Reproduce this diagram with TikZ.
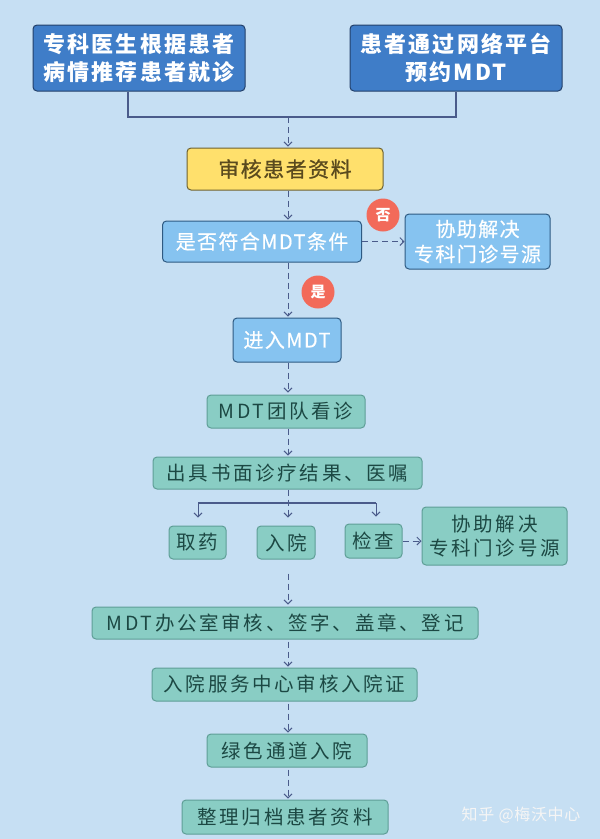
\documentclass[tikz,border=0pt]{standalone}
\usepackage{fontspec}
\setmainfont{Noto Sans CJK SC}
\usetikzlibrary{arrows.meta}
\definecolor{bgc}{HTML}{C6DFF3}
\definecolor{dbfill}{HTML}{3F7DC8}
\definecolor{dbdraw}{HTML}{22406A}
\definecolor{yfill}{HTML}{FFE06C}
\definecolor{ydraw}{HTML}{6E6230}
\definecolor{ytext}{HTML}{5A4A1E}
\definecolor{lbfill}{HTML}{86C3F0}
\definecolor{lbdraw}{HTML}{2E5A82}
\definecolor{tfill}{HTML}{89CDC4}
\definecolor{tdraw}{HTML}{5E9E96}
\definecolor{ttext}{HTML}{1C4843}
\definecolor{rfill}{HTML}{F26A5A}
\definecolor{lc}{HTML}{4A5B8A}
\begin{document}
\begin{tikzpicture}[x=1pt,y=-1pt,
  box/.style={rounded corners=4pt, line width=1pt, inner sep=0pt, align=center},
  dbox/.style={box, draw=dbdraw, fill=dbfill, text=white,
     font=\fontsize{22}{28}\selectfont\bfseries\addfontfeatures{LetterSpace=10}},
  ybox/.style={box, draw=ydraw, fill=yfill, text=ytext,
     font=\fontsize{21}{26}\selectfont\addfontfeatures{LetterSpace=7,FakeBold=0.8}},
  lbox/.style={box, draw=lbdraw, fill=lbfill, text=white,
     font=\fontsize{20}{25}\selectfont\addfontfeatures{LetterSpace=7,FakeBold=0.5}},
  tbox/.style={box, draw=tdraw, fill=tfill, text=ttext,
     font=\fontsize{19.5}{24}\selectfont\addfontfeatures{LetterSpace=14}},
  rc/.style={circle, fill=rfill, minimum size=33pt, inner sep=0pt, text=white,
     font=\fontsize{15}{17}\selectfont\bfseries},
  conn/.style={draw=lc, line width=0.9pt},
  arr/.style={conn, -{Straight Barb[length=4pt,width=8pt]}},
  dsh/.style={dash pattern=on 6pt off 4pt}
]
\fill[bgc] (0,0) rectangle (600,839);
\useasboundingbox (0,0) rectangle (600,839);

% top boxes
\node[dbox, minimum width=212pt, minimum height=66pt] (tl) at (139,58) {专科医生根据患者\\病情推荐患者就诊};
\node[dbox, minimum width=212pt, minimum height=66pt] (tr) at (456,58) {患者通过网络平台\\预约MDT};

\node[ybox, minimum width=196pt, minimum height=42pt] (sh) at (285,169) {审核患者资料};
\node[lbox, minimum width=199pt, minimum height=41pt] (ck) at (262,241.5) {是否符合MDT条件};
\node[lbox, minimum width=145pt, minimum height=55pt] (xz1) at (477.5,241.5) {协助解决\\专科门诊号源};
\node[lbox, minimum width=108pt, minimum height=44pt] (jr) at (287,340) {进入MDT};

\node[rc] (no) at (383,215) {否};
\node[rc] (yes) at (318,292) {是};

\node[tbox, minimum width=158pt, minimum height=33pt] (td) at (286,411.5) {MDT团队看诊};
\node[tbox, minimum width=269pt, minimum height=32pt] (cj) at (287.5,473) {出具书面诊疗结果、医嘱};
\node[tbox, minimum width=57pt, minimum height=33pt] (qy) at (197.5,542.5) {取药};
\node[tbox, minimum width=58pt, minimum height=33pt] (ry) at (286,542.5) {入院};
\node[tbox, minimum width=57pt, minimum height=34pt] (jc) at (373.5,541) {检查};
\node[tbox, minimum width=145pt, minimum height=58pt] (xz2) at (494.5,536) {协助解决\\专科门诊号源};
\node[tbox, minimum width=386pt, minimum height=32pt] (of) at (285,623) {MDT办公室审核、签字、盖章、登记};
\node[tbox, minimum width=265pt, minimum height=33pt] (fw) at (284.5,684.5) {入院服务中心审核入院证};
\node[tbox, minimum width=160pt, minimum height=33pt] (ls) at (287,750.5) {绿色通道入院};
\node[tbox, minimum width=206pt, minimum height=34pt] (zl) at (285,817) {整理归档患者资料};

\node[text=white!92!gray, font=\fontsize{16}{18}\selectfont\addfontfeatures{LetterSpace=4}] (wm) at (521,815) {知乎 @梅沃中心};

% connector coordinates
\coordinate (cx) at (288,0);
\coordinate (jl) at (128,117);
\coordinate (jrr) at (456,117);
\coordinate (jm) at (288,117);
\coordinate (bl) at (198,503);
\coordinate (br) at (376,503);

\draw[conn, line width=1.1pt] (tl.south -| jl) -- (jl) -- (jrr) -- (tr.south -| jrr);
\draw[arr, dsh, shorten >=1pt] (jm) -- (sh.north -| cx);
\draw[arr, dsh, shorten >=1pt] (sh.south -| cx) -- (ck.north -| cx);
\draw[arr, dsh] (ck.east) -- (xz1.west);
\draw[arr, dsh, shorten >=1pt] (ck.south -| cx) -- (jr.north -| cx);
\draw[arr, dsh, shorten >=2pt] (jr.south -| cx) -- (td.north -| cx);
\draw[arr, dsh, shorten >=1pt] (td.south -| cx) -- (cj.north -| cx);
\draw[conn, line width=1.1pt] (bl) -- (br);
\draw[arr, dsh, shorten >=8pt] (cj.south -| cx) -- (ry.north -| cx);
\draw[arr, shorten >=8pt] (bl) -- (qy.north -| bl);
\draw[arr, shorten >=7pt] (br) -- (jc.north -| br);
\draw[arr, dsh] (jc.east) -- (jc.east -| xz2.west);
\draw[arr, dsh, shorten <=14pt, shorten >=2pt] (ry.south -| cx) -- (of.north -| cx);
\draw[arr, dsh, shorten <=2pt, shorten >=1pt] (of.south -| cx) -- (fw.north -| cx);
\draw[arr, dsh, shorten <=2pt, shorten >=1pt] (fw.south -| cx) -- (ls.north -| cx);
\draw[arr, dsh, shorten <=2pt, shorten >=1pt] (ls.south -| cx) -- (zl.north -| cx);
\end{tikzpicture}
\end{document}
